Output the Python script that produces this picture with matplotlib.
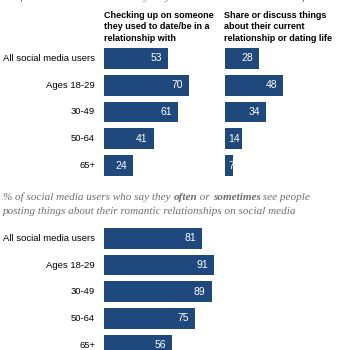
import matplotlib
matplotlib.use('Agg')
import matplotlib.pyplot as plt

groups = ['All social media users', 'Ages 18-29', '30-49', '50-64', '65+']
checking_ex = [53, 70, 61, 41, 24]
share_life = [28, 48, 34, 14, 7]
see_posts = [81, 91, 89, 75, 56]

head_left = 'Checking up on someone\nthey used to date/be in a\nrelationship with'
head_right = 'Share or discuss things\nabout their current\nrelationship or dating life'
top_note = '% of social media users who say they have ever used social media for ...'

blue = '#1f487c'
gray = '#6d6d6d'
W = H = 350
PX = 1.21  # pixels per percentage point
sans = 'Liberation Sans'
serif = 'Liberation Serif'

fig = plt.figure(figsize=(3.5, 3.5), dpi=100)
fig.patch.set_facecolor('white')


def px_axes(x0, y0, w, h):
    return fig.add_axes([x0 / W, 1 - (y0 + h) / H, w / W, h / H])


def bars(ax, vals, w, labels=None):
    ax.barh(range(len(vals)), vals, height=0.78, color=blue)
    ax.set_xlim(0, w / PX)
    ax.set_ylim(len(vals) - 0.5, -0.5)
    ax.axis('off')
    for i, v in enumerate(vals):
        if v * PX < 22:
            ax.annotate(str(v), (0, i), xytext=(3, 0), textcoords='offset pixels',
                        ha='left', va='center', color='white', fontsize=7.5, family=sans)
        else:
            ax.annotate(str(v), (v, i), xytext=(-6, 0), textcoords='offset pixels',
                        ha='right', va='center', color='white', fontsize=7.5, family=sans)
    if labels:
        for i, lab in enumerate(labels):
            ax.annotate(lab, (0, i), xytext=(-9, 0), textcoords='offset pixels',
                        ha='right', va='center', color='black', fontsize=6.8,
                        family=sans, annotation_clip=False)


def rich_line(x, y, pieces):
    # draw text pieces one after another on one line (pixel coords)
    fig.canvas.draw()
    r = fig.canvas.get_renderer()
    cx = x
    for txt, weight in pieces:
        t = fig.text(cx / W, 1 - y / H, txt, ha='left', va='center', color=gray,
                     fontsize=8, family=serif, style='italic', fontweight=weight)
        cx += t.get_window_extent(renderer=r).width


# clipped note at the very top
fig.text(3 / W, 1 + 3 / H, top_note, ha='left', va='center', color=gray,
         fontsize=8, family=serif, style='italic')

# column headers
fig.text(104 / W, 1 - 11 / H, head_left, ha='left', va='top', fontsize=6.5,
         fontweight='bold', family=sans, linespacing=1.35)
fig.text(224 / W, 1 - 11 / H, head_right, ha='left', va='top', fontsize=6.5,
         fontweight='bold', family=sans, linespacing=1.35)

# top section
ax1 = px_axes(104, 45, 112, 134)
bars(ax1, checking_ex, 112, groups)
ax2 = px_axes(225, 45, 120, 134)
bars(ax2, share_life, 120)

# subtitle for bottom section
rich_line(3, 197, [('% of social media users who say they ', 'normal'), ('often', 'bold'),
                   (' or ', 'normal'), ('sometimes', 'bold'), (' see people', 'normal')])
rich_line(3, 211, [('posting things about their romantic relationships on social media', 'normal')])

# bottom section
ax3 = px_axes(104, 225, 160, 133.5)
bars(ax3, see_posts, 160, groups)

fig.savefig('out.png', dpi=100, facecolor='white')
